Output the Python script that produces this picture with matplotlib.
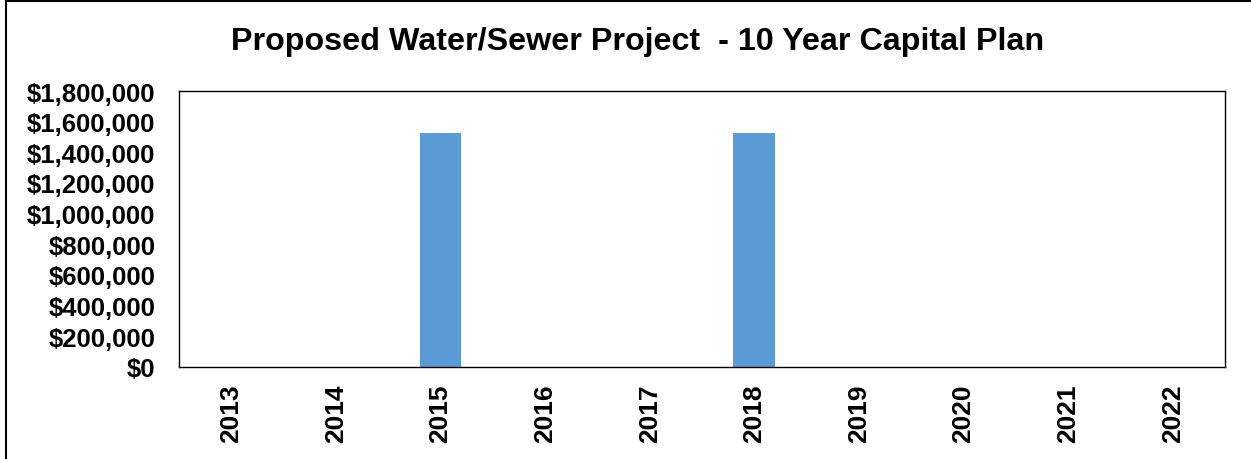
import matplotlib.pyplot as plt
from matplotlib.lines import Line2D
from matplotlib.ticker import FuncFormatter

# ---------------------------------------------------------
# Data
# ---------------------------------------------------------
years = ['2013', '2014', '2015', '2016', '2017', '2018', '2019', '2020', '2021', '2022']
costs = [0, 0, 1525000, 0, 0, 1525000, 0, 0, 0, 0]
y_ticks = [0, 200000, 400000, 600000, 800000, 1000000, 1200000, 1400000, 1600000, 1800000]

plt.rcParams['font.family'] = ['Liberation Sans', 'DejaVu Sans']
plt.rcParams['font.weight'] = 'bold'

fig = plt.figure(figsize=(12.51, 4.60), dpi=100)
ax = fig.add_axes([0.1431, 0.2, 0.8361, 0.6])

ax.bar(range(len(years)), costs, width=0.4, color='#5B9BD5')
ax.set_xlim(-0.5, len(years) - 0.5)
ax.set_ylim(0, 1800000)
ax.set_yticks(y_ticks)
ax.yaxis.set_major_formatter(FuncFormatter(lambda v, p: '${:,.0f}'.format(v)))
ax.set_xticks(range(len(years)))
ax.set_xticklabels(years, rotation=90, fontsize=19, fontweight='bold')
ax.tick_params(axis='y', labelsize=18.5, length=0, pad=17)
ax.tick_params(axis='x', length=0, pad=12)
for lbl in ax.get_yticklabels():
    lbl.set_fontweight('bold')
for s in ax.spines.values():
    s.set_color('black')
    s.set_linewidth(1)

fig.text(0.51, 0.909, 'Proposed Water/Sewer Project  - 10 Year Capital Plan',
         ha='center', va='center', fontsize=23.2, fontweight='bold')

# outer chart border (only top and left visible in the crop)
fig.add_artist(Line2D([0.005, 0.005], [0, 0.996], color='black', lw=1.5, transform=fig.transFigure))
fig.add_artist(Line2D([0.005, 1], [0.996, 0.996], color='black', lw=1.5, transform=fig.transFigure))

plt.savefig('out.png', dpi=100)
